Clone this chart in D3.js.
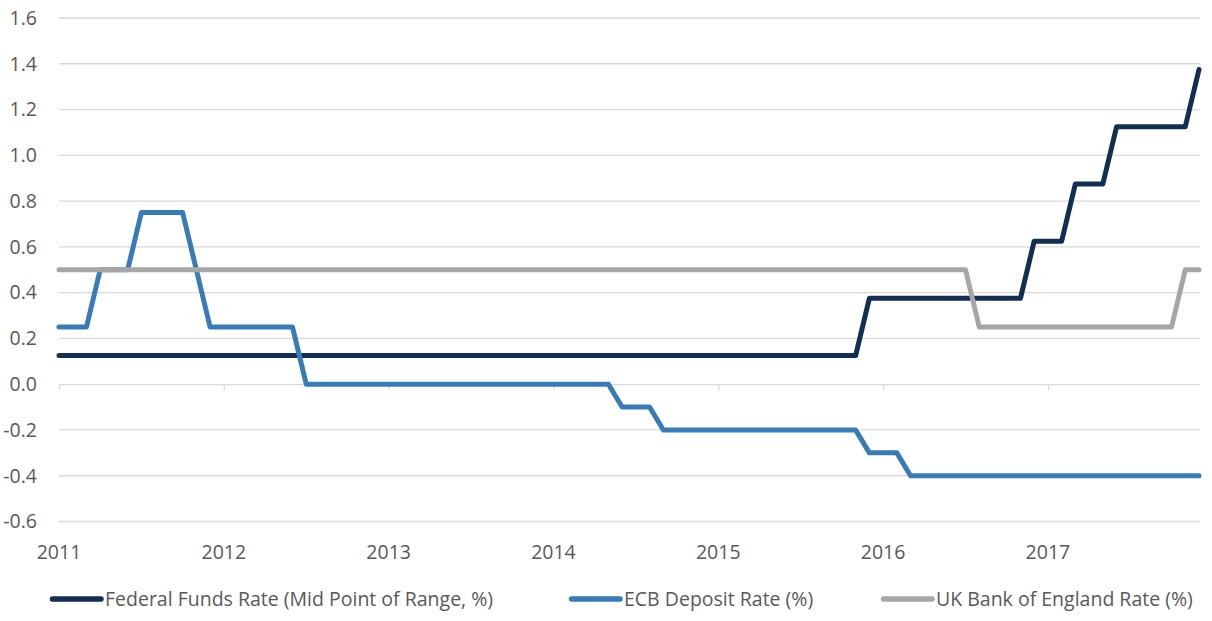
<!DOCTYPE html>
<html>
<head>
<meta charset="utf-8">
<script src="https://cdn.jsdelivr.net/npm/d3@7"></script>
<style>
  body { margin: 0; background: #fff; }
  text { font-family: "Open Sans", "Noto Sans", sans-serif; fill: #595959; }
</style>
</head>
<body>
<svg id="chart" width="1212" height="621"></svg>
<script>
// monthly categories, Jan 2011 .. Dec 2017
const months = d3.timeMonth.range(new Date(2011, 0, 1), new Date(2018, 0, 1)).map(d3.timeFormat("%Y-%m"));
const yearLabels = ["2011", "2012", "2013", "2014", "2015", "2016", "2017"];
const yTicks = [-0.6, -0.4, -0.2, 0.0, 0.2, 0.4, 0.6, 0.8, 1.0, 1.2, 1.4, 1.6];

const fedRate = [
  0.125, 0.125, 0.125, 0.125, 0.125, 0.125, 0.125, 0.125, 0.125, 0.125, 0.125, 0.125,
  0.125, 0.125, 0.125, 0.125, 0.125, 0.125, 0.125, 0.125, 0.125, 0.125, 0.125, 0.125,
  0.125, 0.125, 0.125, 0.125, 0.125, 0.125, 0.125, 0.125, 0.125, 0.125, 0.125, 0.125,
  0.125, 0.125, 0.125, 0.125, 0.125, 0.125, 0.125, 0.125, 0.125, 0.125, 0.125, 0.125,
  0.125, 0.125, 0.125, 0.125, 0.125, 0.125, 0.125, 0.125, 0.125, 0.125, 0.125, 0.375,
  0.375, 0.375, 0.375, 0.375, 0.375, 0.375, 0.375, 0.375, 0.375, 0.375, 0.375, 0.625,
  0.625, 0.625, 0.875, 0.875, 0.875, 1.125, 1.125, 1.125, 1.125, 1.125, 1.125, 1.375
];
const ecbRate = [
  0.25, 0.25, 0.25, 0.5, 0.5, 0.5, 0.75, 0.75, 0.75, 0.75, 0.5, 0.25,
  0.25, 0.25, 0.25, 0.25, 0.25, 0.25, 0, 0, 0, 0, 0, 0,
  0, 0, 0, 0, 0, 0, 0, 0, 0, 0, 0, 0,
  0, 0, 0, 0, 0, -0.1, -0.1, -0.1, -0.2, -0.2, -0.2, -0.2,
  -0.2, -0.2, -0.2, -0.2, -0.2, -0.2, -0.2, -0.2, -0.2, -0.2, -0.2, -0.3,
  -0.3, -0.3, -0.4, -0.4, -0.4, -0.4, -0.4, -0.4, -0.4, -0.4, -0.4, -0.4,
  -0.4, -0.4, -0.4, -0.4, -0.4, -0.4, -0.4, -0.4, -0.4, -0.4, -0.4, -0.4
];
const boeRate = [
  0.5, 0.5, 0.5, 0.5, 0.5, 0.5, 0.5, 0.5, 0.5, 0.5, 0.5, 0.5,
  0.5, 0.5, 0.5, 0.5, 0.5, 0.5, 0.5, 0.5, 0.5, 0.5, 0.5, 0.5,
  0.5, 0.5, 0.5, 0.5, 0.5, 0.5, 0.5, 0.5, 0.5, 0.5, 0.5, 0.5,
  0.5, 0.5, 0.5, 0.5, 0.5, 0.5, 0.5, 0.5, 0.5, 0.5, 0.5, 0.5,
  0.5, 0.5, 0.5, 0.5, 0.5, 0.5, 0.5, 0.5, 0.5, 0.5, 0.5, 0.5,
  0.5, 0.5, 0.5, 0.5, 0.5, 0.5, 0.5, 0.25, 0.25, 0.25, 0.25, 0.25,
  0.25, 0.25, 0.25, 0.25, 0.25, 0.25, 0.25, 0.25, 0.25, 0.25, 0.5, 0.5
];

const seriesNames = ["Federal Funds Rate (Mid Point of Range, %)", "ECB Deposit Rate (%)", "UK Bank of England Rate (%)"];
const seriesColors = ["#122e52", "#387bb9", "#a6a6a6"];
const seriesValues = [fedRate, ecbRate, boeRate];

// layout
const margin = { top: 18, right: 12, bottom: 99.5, left: 59 },
  width = 1212 - margin.left - margin.right,
  height = 621 - margin.top - margin.bottom;

const svg = d3.select("#chart")
  .append("g")
  .attr("transform", "translate(" + margin.left + "," + margin.top + ")");

const x = d3.scalePoint().domain(months).range([0, 1140]);
const y = d3.scaleLinear().domain([-0.6, 1.6]).range([height, 0]);

// gridlines
svg.selectAll(".grid")
  .data(yTicks.filter(d => d !== 0))
  .join("line")
  .attr("x1", 0).attr("x2", 1141)
  .attr("y1", d => y(d)).attr("y2", d => y(d))
  .attr("stroke", "#d9d9d9")
  .attr("stroke-width", 1.3);

// y labels
svg.selectAll(".ylab")
  .data(yTicks)
  .join("text")
  .attr("x", -22)
  .attr("y", d => y(d))
  .attr("dy", "0.35em")
  .attr("text-anchor", "end")
  .style("font-size", "19.5px")
  .text(d => d3.format(".1f")(d).replace("−", "-"));

// x axis sits at zero
const yearMonths = yearLabels.map(yr => yr + "-01");
const xAxis = svg.append("g")
  .attr("transform", `translate(0,${y(0)})`)
  .call(d3.axisBottom(x).tickValues(yearMonths).tickSize(6).tickFormat(""));
xAxis.select(".domain").attr("stroke", "#d9d9d9").attr("stroke-width", 1.3).attr("d", "M0,0.5H1141");
xAxis.selectAll(".tick line").attr("stroke", "#d9d9d9").attr("stroke-width", 1.3);

// year labels at the bottom
svg.selectAll(".xlab")
  .data(yearLabels)
  .join("text")
  .attr("x", d => x(d + "-01"))
  .attr("y", height + 37)
  .attr("text-anchor", "middle")
  .style("font-size", "19.5px")
  .text(d => d);

// lines
const line = d3.line()
  .x((d, i) => x(months[i]))
  .y(d => y(d));

seriesValues.forEach((vals, k) => {
  svg.append("path")
    .datum(vals)
    .attr("fill", "none")
    .attr("stroke", seriesColors[k])
    .attr("stroke-width", 5)
    .attr("stroke-linejoin", "round")
    .attr("stroke-linecap", "round")
    .attr("d", line);
});

// legend
const legend = d3.select("#chart").append("g").attr("transform", "translate(0,599)");
const legendX = [50, 569, 881];
seriesNames.forEach((name, k) => {
  const g = legend.append("g").attr("transform", `translate(${legendX[k]},0)`);
  g.append("line")
    .attr("x1", 2.5).attr("x2", 51)
    .attr("y1", 0).attr("y2", 0)
    .attr("stroke", seriesColors[k])
    .attr("stroke-width", 5.5)
    .attr("stroke-linecap", "round");
  g.append("text")
    .attr("x", 55)
    .attr("dy", "0.35em")
    .style("font-size", "19.5px")
    .text(name);
});
</script>
</body>
</html>
